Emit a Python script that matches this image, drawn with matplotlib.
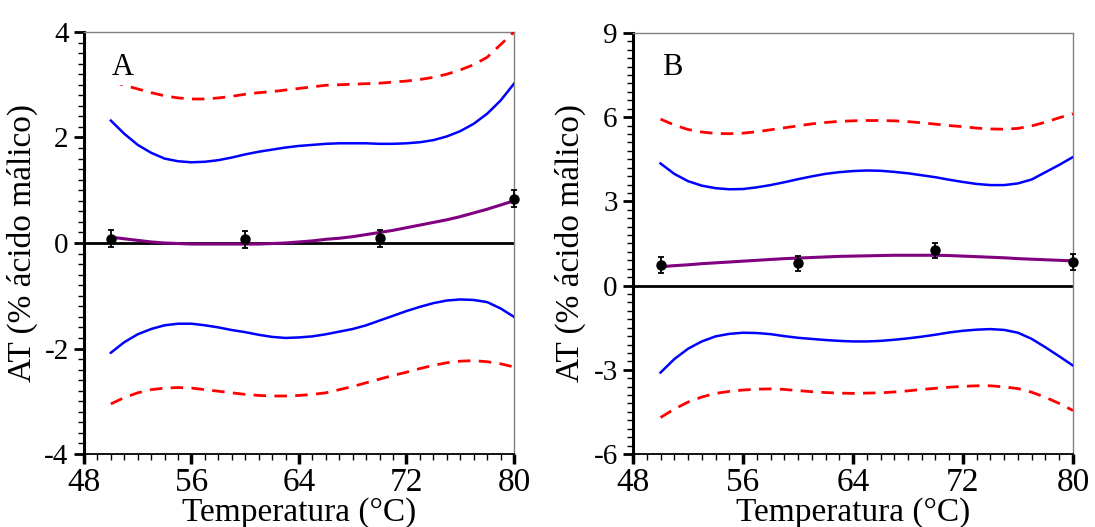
import numpy as np
import matplotlib
matplotlib.use("Agg")
import matplotlib.pyplot as plt
from matplotlib.ticker import MultipleLocator

plt.rcParams["font.family"] = ["Liberation Serif", "DejaVu Serif"]
plt.rcParams["axes.unicode_minus"] = False

# ------------------------------------------------------------
# Data (1 °C steps)
# ------------------------------------------------------------
temp = list(range(50, 81))

# panel A
a_fit = [0.11, 0.08, 0.05, 0.02, 0.00, -0.01, -0.02, -0.02, -0.02, -0.02, -0.02,
         -0.02, -0.01, 0.00, 0.02, 0.04, 0.07, 0.09, 0.12, 0.16, 0.20,
         0.24, 0.29, 0.34, 0.39, 0.44, 0.50, 0.57, 0.64, 0.72, 0.80]
a_ci_up = [2.32, 2.07, 1.86, 1.71, 1.60, 1.55, 1.53, 1.54, 1.57, 1.62, 1.68,
           1.73, 1.77, 1.81, 1.84, 1.86, 1.88, 1.89, 1.89, 1.89, 1.88,
           1.88, 1.89, 1.91, 1.95, 2.02, 2.12, 2.26, 2.45, 2.70, 3.02]
a_ci_lo = [-2.08, -1.88, -1.73, -1.63, -1.56, -1.53, -1.53, -1.56, -1.60, -1.65, -1.69,
           -1.74, -1.78, -1.80, -1.79, -1.77, -1.73, -1.68, -1.63, -1.56, -1.47,
           -1.38, -1.29, -1.21, -1.14, -1.09, -1.07, -1.08, -1.12, -1.24, -1.40]
a_pi_up = [3.07, 2.99, 2.92, 2.85, 2.79, 2.75, 2.73, 2.73, 2.75, 2.78, 2.82,
           2.85, 2.87, 2.90, 2.93, 2.96, 2.99, 3.00, 3.01, 3.02, 3.03,
           3.05, 3.07, 3.10, 3.14, 3.20, 3.28, 3.38, 3.52, 3.76, 4.00]
a_pi_lo = [-3.05, -2.93, -2.84, -2.78, -2.75, -2.74, -2.75, -2.78, -2.81, -2.84, -2.87,
           -2.89, -2.90, -2.90, -2.89, -2.87, -2.84, -2.78, -2.72, -2.65, -2.58,
           -2.51, -2.45, -2.38, -2.32, -2.27, -2.24, -2.23, -2.25, -2.29, -2.35]
a_obs_x = [50, 60, 70, 80]
a_obs_y = [0.08, 0.07, 0.09, 0.84]
a_obs_err = [0.16, 0.16, 0.16, 0.16]

# panel B
b_fit = [0.67, 0.71, 0.74, 0.78, 0.81, 0.84, 0.87, 0.90, 0.93, 0.96, 0.98,
         1.00, 1.02, 1.04, 1.05, 1.06, 1.07, 1.08, 1.08, 1.08, 1.08,
         1.07, 1.05, 1.03, 1.01, 0.99, 0.96, 0.94, 0.92, 0.90, 0.88]
b_ci_up = [4.35, 3.98, 3.72, 3.56, 3.47, 3.43, 3.44, 3.50, 3.58, 3.68, 3.79,
           3.89, 3.98, 4.04, 4.08, 4.10, 4.09, 4.05, 4.00, 3.93, 3.86,
           3.77, 3.69, 3.62, 3.58, 3.58, 3.64, 3.78, 4.04, 4.30, 4.58]
b_ci_lo = [-3.10, -2.62, -2.25, -1.99, -1.81, -1.72, -1.68, -1.69, -1.73, -1.80, -1.86,
           -1.90, -1.94, -1.97, -1.99, -1.99, -1.97, -1.93, -1.88, -1.82, -1.75,
           -1.67, -1.61, -1.57, -1.55, -1.58, -1.68, -1.90, -2.20, -2.52, -2.85]
b_pi_up = [5.93, 5.72, 5.56, 5.47, 5.42, 5.41, 5.43, 5.48, 5.55, 5.62, 5.69,
           5.76, 5.81, 5.85, 5.87, 5.88, 5.88, 5.87, 5.84, 5.80, 5.75,
           5.70, 5.66, 5.61, 5.58, 5.57, 5.60, 5.69, 5.82, 5.98, 6.12]
b_pi_lo = [-4.70, -4.40, -4.15, -3.97, -3.84, -3.77, -3.72, -3.69, -3.68, -3.70, -3.74,
           -3.78, -3.81, -3.83, -3.84, -3.83, -3.82, -3.79, -3.75, -3.70, -3.66,
           -3.62, -3.59, -3.57, -3.57, -3.61, -3.67, -3.80, -3.98, -4.20, -4.45]
b_obs_x = [50, 60, 70, 80]
b_obs_y = [0.73, 0.79, 1.25, 0.85]
b_obs_err = [0.28, 0.27, 0.28, 0.29]


def draw_panel(ax, fit, ci_up, ci_lo, pi_up, pi_lo, ox, oy, oerr,
               ylim, ymajor, yminor, letter):
    ax.axhline(0, color="black", lw=2.0, zorder=2)
    ax.plot(temp, pi_up, color="#ff0000", lw=2.0, dashes=(4.5, 3), zorder=3)
    ax.plot(temp, pi_lo, color="#ff0000", lw=2.0, dashes=(4.5, 3), zorder=3)
    ax.plot(temp, ci_up, color="#0000ff", lw=1.8, zorder=3)
    ax.plot(temp, ci_lo, color="#0000ff", lw=1.8, zorder=3)
    ax.plot(temp, fit, color="#800080", lw=2.2, zorder=4)
    ax.errorbar(ox, oy, yerr=oerr, fmt="o", color="black", ms=6.5,
                elinewidth=1.3, capsize=2.5, capthick=1.3, zorder=5,
                clip_on=False)

    ax.set_xlim(48, 80)
    ax.set_ylim(*ylim)
    ax.xaxis.set_major_locator(MultipleLocator(8))
    ax.xaxis.set_minor_locator(MultipleLocator(1))
    ax.yaxis.set_major_locator(MultipleLocator(ymajor))
    ax.yaxis.set_minor_locator(MultipleLocator(yminor))
    ax.tick_params(which="major", direction="out", length=7, width=2,
                   colors="black", pad=4)
    ax.tick_params(which="minor", direction="out", length=4, width=1)
    ax.tick_params(axis="x", which="major", width=2.5, labelsize=24, pad=3)
    ax.tick_params(axis="y", which="major", labelsize=21)

    for side in ("top", "right"):
        ax.spines[side].set_color("#808080")
        ax.spines[side].set_linewidth(1.0)
    ax.spines["left"].set_linewidth(2.2)
    ax.spines["bottom"].set_linewidth(1.3)

    ax.set_xlabel("Temperatura (°C)", fontsize=24)
    ax.set_ylabel("AT (% ácido málico)", fontsize=24)
    ax.yaxis.set_label_coords(-0.108, 0.5)
    ax.xaxis.set_label_coords(0.5, -0.103)

    ax.text(0.065, 0.917, letter, transform=ax.transAxes, fontsize=22,
            ha="left", va="center", zorder=6,
            bbox=dict(facecolor="white", edgecolor="none", pad=2.5))


fig = plt.figure(figsize=(10.95, 5.27), dpi=100)
ax_a = fig.add_axes([0.0767, 0.1385, 0.3927, 0.8008])
ax_b = fig.add_axes([0.5781, 0.1385, 0.4018, 0.7990])

draw_panel(ax_a, a_fit, a_ci_up, a_ci_lo, a_pi_up, a_pi_lo,
           a_obs_x, a_obs_y, a_obs_err, (-4, 4), 2, 0.2, "A")
draw_panel(ax_b, b_fit, b_ci_up, b_ci_lo, b_pi_up, b_pi_lo,
           b_obs_x, b_obs_y, b_obs_err, (-6, 9), 3, 0.3, "B")

fig.savefig("out.png", dpi=100)
